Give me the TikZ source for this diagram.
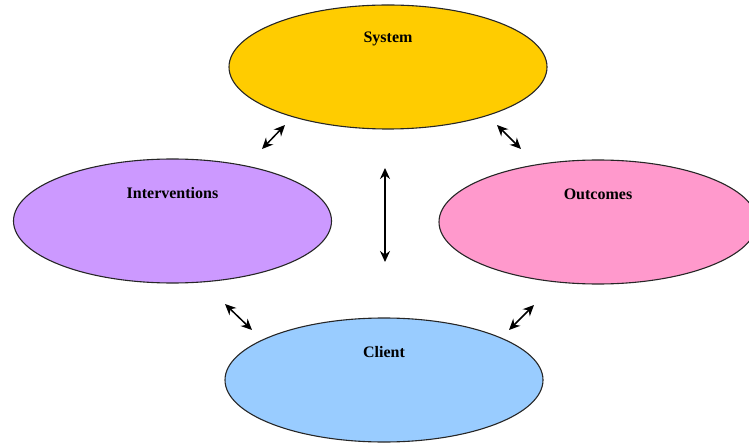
\documentclass[tikz,border=0pt]{standalone}
\usepackage{fontspec}
\setmainfont{Liberation Serif}
\usetikzlibrary{shapes.geometric,arrows.meta}
\definecolor{sysyellow}{HTML}{FFCC00}
\definecolor{intviolet}{HTML}{CC99FF}
\definecolor{outpink}{HTML}{FF99CC}
\definecolor{cliblue}{HTML}{99CCFF}
\tikzset{
  blob/.style={ellipse,draw=black!85,line width=1.1pt,inner sep=0pt,
    minimum width=318pt,minimum height=124pt},
  tag/.style={font=\fontsize{16}{18}\selectfont\bfseries},
  link/.style={line width=1.5pt,{Stealth[length=11pt,width=10pt]}-{Stealth[length=11pt,width=10pt]}}
}
\begin{document}
\begin{tikzpicture}[x=1pt,y=-1pt]
\useasboundingbox (0,0) rectangle (749,446);
\node[blob,fill=sysyellow] (sys) at (388,67) {};
\node[blob,fill=intviolet] (int) at (172.5,221) {};
\node[blob,fill=outpink] (out) at (598,222) {};
\node[blob,fill=cliblue] (cli) at (384,380) {};
\foreach \n/\t in {sys/System, int/Interventions, out/Outcomes, cli/Client}
  \node[tag] (\n-t) at ([yshift=28pt]\n.center) {\t};
\path
(262,149) coordinate (a1) (285,125) coordinate (a2)
(497,125) coordinate (b1) (521,149) coordinate (b2)
(385,168) coordinate (c1) (385,262) coordinate (c2)
(225,304) coordinate (d1) (252,330) coordinate (d2)
(509,330) coordinate (e1) (534,305) coordinate (e2)
;
\foreach \p in {a,b,c,d,e}
  \draw[link] (\p1) -- (\p2);
\end{tikzpicture}
\end{document}
